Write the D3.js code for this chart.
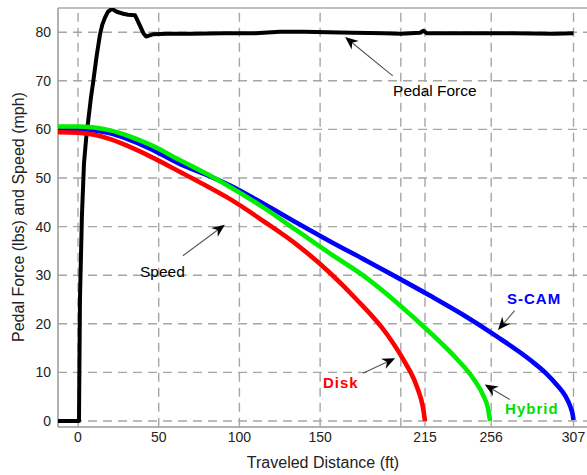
<!DOCTYPE html>
<html><head><meta charset="utf-8">
<script src="https://cdn.jsdelivr.net/npm/d3@7"></script>
<style>body{margin:0;background:#fff}svg{display:block}text{font-family:"Liberation Sans",Arial,sans-serif}</style>
</head><body><svg id="c" width="587" height="475"></svg>
<script>
// ---- data ----
const xTicksGrid = [0, 50, 100, 150, 200, 215, 256, 307];
const xTickLabels = [0, 50, 100, 150, 215, 256, 307];
const yTicks = [0, 10, 20, 30, 40, 50, 60, 70, 80];

const pedalForce = [[-12.4,0],[0.6,0],[1.2,25],[2.4,42],[3.7,53],[5,58],[6.4,62],[8,66.5],[9.5,70],[11.5,75],[13.6,79.5],[15,81.5],[16.7,83],[18.5,84.2],[20.9,84.8],[24,84.2],[28,83.8],[31,83.6],[35.3,83.5],[38,81.6],[40.5,79.8],[42.2,79.1],[46.7,79.6],[55,79.7],[70,79.7],[90,79.8],[110,79.8],[125,80.1],[140,80.1],[155,80],[170,79.9],[190,79.8],[200,79.7],[212,79.9],[214,80.3],[216,79.8],[240,79.8],[270,79.8],[295,79.7],[307,79.8]];

const disk = [[-12.4,59.4],[0,59.3],[10,58.9],[20,58],[30,56.7],[45,54.4],[63,51.3],[80,48.3],[94,45.7],[115,41.1],[135.5,36.3],[156,30.5],[172.6,25],[191.3,17.9],[201.6,12.6],[209.9,7.1],[213.6,3],[215,0]];

const hybrid = [[-12.4,60.6],[0,60.6],[10,60.4],[20,59.8],[30,58.8],[45,56.8],[63,53.7],[80,50.8],[94,48.2],[115,43.9],[135.5,39.2],[156,34.5],[176.8,29.9],[197.4,24.4],[218.1,18.2],[234.6,12.8],[245,8.7],[251,5.3],[254,2.6],[255.3,0]];

const scam = [[-12.4,60.1],[0,60],[10,59.8],[20,59.2],[30,58.1],[45,56],[63,52.9],[80,50.6],[94,48.5],[115,44.7],[135.5,40.8],[156,37],[176.8,33.3],[197.4,29.6],[218,25.8],[238.8,21.8],[259.4,17.4],[280,12.6],[290,9.8],[297,7.3],[302,5.1],[305,3],[306.5,1.3],[307,0.2]];

const series = [
  {name:"Pedal Force", data: pedalForce, color:"#000000"},
  {name:"S-CAM", data: scam, color:"#0000ff"},
  {name:"Disk", data: disk, color:"#ff0000"},
  {name:"Hybrid", data: hybrid, color:"#00ee00"}
];

// annotations: label, text position (data), arrow tail (data), arrow head (data)
const annotations = [
  {text:"Pedal Force", color:"#000", bold:false, tx:195.2, ty:68.1, tail:[195,71], head:[165.5,79]},
  {text:"Speed", color:"#000", bold:false, tx:38.4, ty:30.7, tail:[65,34], head:[91,40.4]},
  {text:"S-CAM", color:"#0000ff", bold:true, tx:265.8, ty:25.2, tail:[270.5,22.7], head:[260.2,18.7]},
  {text:"Hybrid", color:"#00dd00", bold:true, tx:264.6, ty:2.5, tail:[267.5,4.4], head:[252,7.5]},
  {text:"Disk", color:"#ff0000", bold:true, tx:151.8, ty:7.9, tail:[176.5,9.8], head:[196.5,12.9]}
];

// ---- layout ----
const svg = d3.select("#c");
const x = d3.scaleLinear().domain([-12.4, 320]).range([58, 58 + 332.4*1.614]);
const y = d3.scaleLinear().domain([-1.2, 85]).range([426.8, 7.9]);

svg.append("clipPath").attr("id","clip").append("rect")
  .attr("x", 58).attr("y", 7.9).attr("width", 540).attr("height", 426.8-7.9);

// grid
const grid = svg.append("g").attr("clip-path","url(#clip)");
grid.selectAll(".gx").data(xTicksGrid).join("line")
  .attr("x1", d=>x(d)).attr("x2", d=>x(d)).attr("y1", y.range()[0]).attr("y2", y.range()[1])
  .attr("stroke","#a6a6a6").attr("stroke-width",1.4).attr("stroke-dasharray","9,6");
grid.selectAll(".gy").data(yTicks).join("line")
  .attr("y1", d=>y(d)).attr("y2", d=>y(d)).attr("x1", 58).attr("x2", 600)
  .attr("stroke","#a6a6a6").attr("stroke-width",1.4).attr("stroke-dasharray","9,6");

// axes frame
svg.append("line").attr("x1",58).attr("x2",58).attr("y1",7.9).attr("y2",427).attr("stroke","#999").attr("stroke-width",1.5);
svg.append("line").attr("x1",58).attr("x2",587).attr("y1",427).attr("y2",427).attr("stroke","#999").attr("stroke-width",1.5);
svg.append("line").attr("x1",58).attr("x2",587).attr("y1",7.9).attr("y2",7.9).attr("stroke","#aaa").attr("stroke-width",1.5);

// tick labels
svg.append("g").selectAll("text").data(xTickLabels).join("text")
  .attr("x", d=>x(d)).attr("y", 442).attr("text-anchor","middle")
  .attr("font-size",14).attr("fill","#222").text(d=>d);
svg.append("g").selectAll("text").data(yTicks).join("text")
  .attr("x", 51).attr("y", d=>y(d)+5).attr("text-anchor","end")
  .attr("font-size",14).attr("fill","#222").text(d=>d);

// axis titles
svg.append("text").attr("x", 323).attr("y", 468).attr("text-anchor","middle")
  .attr("font-size",16).attr("fill","#222").text("Traveled Distance (ft)");
svg.append("text").attr("transform","translate(24,217) rotate(-90)").attr("text-anchor","middle")
  .attr("font-size",16).attr("fill","#222").text("Pedal Force (lbs) and Speed (mph)");

// lines
const smooth = d3.line().x(d=>x(d[0])).y(d=>y(d[1])).curve(d3.curveMonotoneX);
const straight = d3.line().x(d=>x(d[0])).y(d=>y(d[1]));
const lines = svg.append("g").attr("clip-path","url(#clip)");
series.forEach(s=>{
  const isForce = s.name==="Pedal Force";
  lines.append("path").datum(s.data).attr("d", isForce ? straight : smooth)
    .attr("fill","none").attr("stroke", s.color)
    .attr("stroke-width", isForce ? 4 : 4.6)
    .attr("stroke-linejoin","round").attr("stroke-linecap","butt");
});

// annotations
const ag = svg.append("g");
annotations.forEach(a=>{
  const x1 = x(a.tail[0]), y1 = y(a.tail[1]), x2 = x(a.head[0]), y2 = y(a.head[1]);
  const ang = Math.atan2(y2-y1, x2-x1);
  const L = 13, W = 5.5, N = 9;
  const bx = x2 - L*Math.cos(ang), by = y2 - L*Math.sin(ang);
  const nx = x2 - N*Math.cos(ang), ny = y2 - N*Math.sin(ang);
  const px = -Math.sin(ang), py = Math.cos(ang);
  ag.append("line").attr("x1",x1).attr("y1",y1).attr("x2",nx).attr("y2",ny)
    .attr("stroke","#555").attr("stroke-width",1.1);
  ag.append("path").attr("d", `M${x2},${y2}L${bx+W*px},${by+W*py}L${nx},${ny}L${bx-W*px},${by-W*py}Z`)
    .attr("fill","#000");
  ag.append("text").attr("x", x(a.tx)).attr("y", y(a.ty)+5.5)
    .attr("font-size", a.bold ? 15 : 15.5).attr("font-weight", a.bold ? "bold" : "normal")
    .attr("fill", a.color).attr("letter-spacing", a.bold ? "1px" : "0").text(a.text);
});
</script></body></html>
